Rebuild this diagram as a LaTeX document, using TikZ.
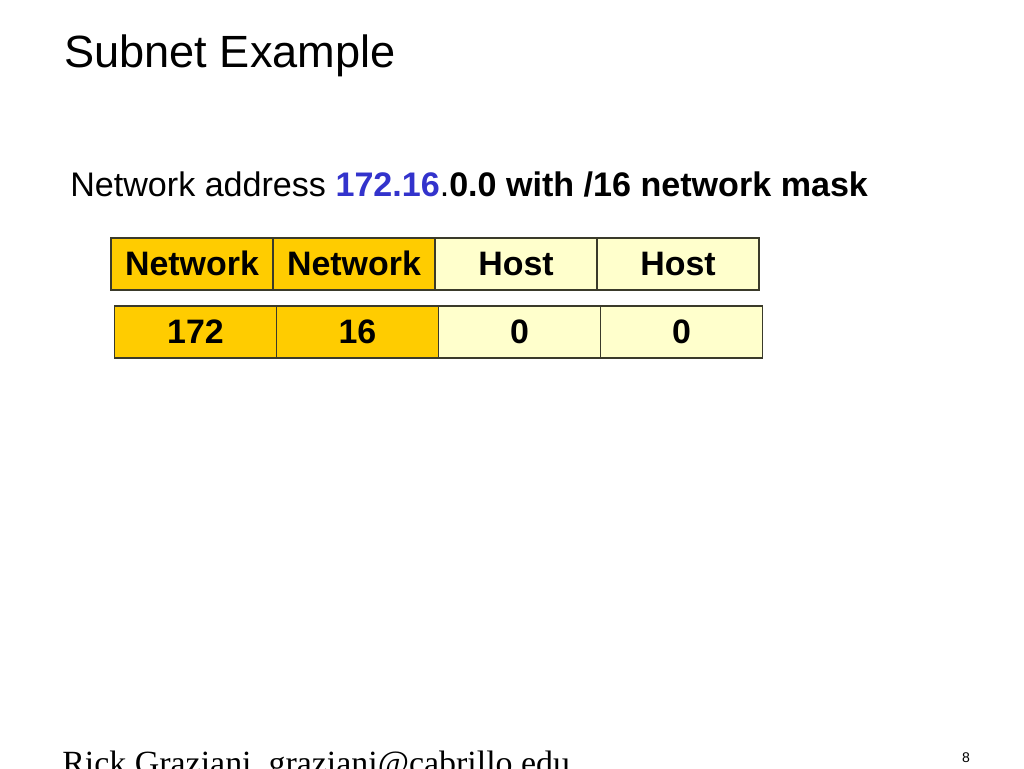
\documentclass[tikz,border=0pt]{standalone}
\usepackage{fontspec}
\setmainfont{Liberation Sans}
\newfontfamily\footserif{Liberation Serif}
\usetikzlibrary{positioning}
\definecolor{netgold}{HTML}{FFCC00}
\definecolor{hostcream}{HTML}{FFFFCC}
\definecolor{addrblue}{HTML}{3333CC}
\definecolor{cellrim}{HTML}{3A3A2A}

\tikzset{
  cell/.style={draw=cellrim, line width=0.7pt, minimum width=3.24cm,
    minimum height=1.04cm, inner sep=0pt, text height=0.47cm, text depth=0pt,
    font=\fontsize{19.3}{21}\selectfont\bfseries},
  netcell/.style={cell, fill=netgold},
  hostcell/.style={cell, fill=hostcream}
}

\begin{document}
\begin{tikzpicture}[x=0.02cm, y=-0.02cm]
    \useasboundingbox (0,0) rectangle (1024,768);
    % Titel
    \node[anchor=base west, inner sep=0pt, font=\fontsize{25.7}{29}\selectfont]
      (title) at (64,67) {Subnet Example};
    % Unterzeile
    \node[anchor=base west, inner sep=0pt, font=\fontsize{19.4}{22}\selectfont]
      (subline) at (70,196)
      {Network address \textbf{\color{addrblue}172.16}.\textbf{0.0 with /16 network mask}};
    % obere Zeile: Felder
    \foreach \i/\kind/\txt in {1/netcell/Network, 2/netcell/Network,
                               3/hostcell/Host, 4/hostcell/Host}
      \node[\kind] (f\i) at (111+162*\i-81,264) {\txt};
    % untere Zeile: Werte
    \foreach \i/\kind/\txt in {1/netcell/172, 2/netcell/16,
                               3/hostcell/0, 4/hostcell/0}
      \node[\kind] (v\i) at (114.5+162*\i-81,332) {\txt};
    % Fusszeile
    \node[anchor=base west, inner sep=0pt, font=\footserif\fontsize{19.3}{21}\selectfont]
      (footer) at (62,774) {Rick Graziani\ \ graziani@cabrillo.edu};
    \node[anchor=base, inner sep=0pt, font=\fontsize{8}{9}\selectfont]
      (pageno) at (966,762) {8};
\end{tikzpicture}
\end{document}
